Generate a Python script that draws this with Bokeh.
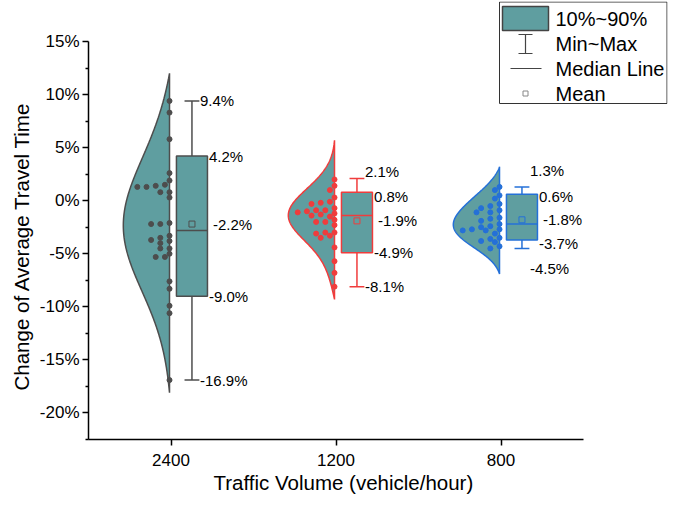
import numpy as np
from bokeh.plotting import figure
from bokeh.models import (ColumnDataSource, Range1d, FixedTicker, Label, Arrow,
                          TeeHead, BoxAnnotation, PrintfTickFormatter, Title)
from bokeh.embed import file_html
from bokeh.resources import INLINE

# ---------------- data ----------------
categories = ["2400", "1200", "800"]

points_2400 = [9.4, 8.3, 5.8, 2.6, 1.9, 1.5, 1.4, 1.3, 1.3, 0.8, 0.8, 0.3,
               -2.1, -2.2, -2.2, -3.3, -3.5, -3.7, -3.8, -4.0, -4.5, -4.5,
               -5.0, -5.3, -5.3, -7.6, -8.3, -9.9, -10.6, -16.9]
points_1200 = [2.0, 1.4, 1.0, 0.3, -0.1, -0.2, -0.3, -0.7, -0.9, -0.9, -1.0,
               -1.1, -1.2, -1.3, -1.4, -1.5, -1.8, -2.0, -2.0, -2.3, -3.0,
               -3.0, -3.1, -3.3, -3.5, -4.4, -5.7, -6.8, -8.1]
points_800 = [1.3, 1.0, 0.5, 0.2, -0.3, -0.5, -0.7, -0.9, -1.1, -1.1, -1.6,
              -1.7, -1.9, -2.2, -2.4, -2.5, -2.7, -2.7, -2.8, -2.8, -3.1,
              -3.5, -3.6, -3.8, -3.9, -4.3, -4.5]

stat_max = [9.4, 2.1, 1.3]
stat_p90 = [4.2, 0.8, 0.6]
stat_mean = [-2.2, -1.9, -1.8]
stat_median = [-2.8, -1.4, -2.2]
stat_p10 = [-9.0, -4.9, -3.7]
stat_min = [-16.9, -8.1, -4.5]

violin_top = [12.0, 5.7, 3.2]
violin_bottom = [-18.1, -9.3, -6.9]

y_ticks = [-20, -15, -10, -5, 0, 5, 10, 15]

x_title = "Traffic Volume (vehicle/hour)"
y_title = "Change of Average Travel Time"
legend_labels = ["10%~90%", "Min~Max", "Median Line", "Mean"]

# ---------------- styling / layout ----------------
FILL = "#5F9EA0"
EDGE = ["#4D4D4D", "#F03C3C", "#2470D8"]
FONT = "Liberation Sans"
W, H = 668, 498
AX_L, AX_R, AX_T, AX_B = 88, 583, 41, 439      # axis extents (px)
Y0, Y1 = -22.5, 15.0
XPX = (AX_R - AX_L) / 3.0
YPX = (AX_B - AX_T) / (Y1 - Y0)
FR_T, FR_R = 1, 667                              # frame extends for the legend
X_END = (FR_R - AX_L) / XPX
Y_END = Y1 + (AX_T - FR_T) / YPX

BOX_L, BOX_R = 0.033, 0.221
BOX_C = (BOX_L + BOX_R) / 2
CAP = 0.045
VIOLIN_W = 0.28
SPINE = -0.009

lab_dx = {"max": 29, "p90": 38, "mean": 42, "p10": 38, "min": 29}
lab_dy = [
    {"max": 0, "p90": 0, "mean": 0, "p10": 0, "min": 0},
    {"max": 7, "p90": -4, "mean": 0, "p10": 0, "min": 0},
    {"max": 16, "p90": -2, "mean": 0, "p10": -4, "min": -20},
]

p = figure(width=W, height=H, output_backend="svg", toolbar_location=None,
           x_range=Range1d(0, X_END), y_range=Range1d(Y0, Y_END),
           min_border_left=AX_L, min_border_right=W - FR_R,
           min_border_top=FR_T, min_border_bottom=H - AX_B)
p.outline_line_color = None
p.xgrid.visible = False
p.ygrid.visible = False
p.background_fill_color = "white"
p.border_fill_color = "white"


def swarm_offsets(vals, d=5.2, step=4.6):
    v = np.asarray(vals, dtype=float)
    order = np.argsort(-v)
    placed = []
    offs = np.zeros(len(v))
    for i in order:
        yy = v[i] * YPX
        k = 0
        while True:
            xx = -k * step
            if all((xx - a) ** 2 + (yy - b) ** 2 >= d * d for a, b in placed):
                break
            k += 1
        placed.append((xx, yy))
        offs[i] = xx
    return offs / XPX


all_points = [points_2400, points_1200, points_800]

for i, cat in enumerate(categories):
    c = i + 0.5
    vals = np.asarray(all_points[i], dtype=float)
    col = EDGE[i]
    n = len(vals)
    h = 1.06 * vals.std(ddof=1) * n ** (-0.2) * 1.6
    grid = np.linspace(violin_bottom[i], violin_top[i], 300)
    dens = np.exp(-0.5 * ((grid[:, None] - vals[None, :]) / h) ** 2).sum(1)
    # taper both ends to the spine
    dens = dens - np.interp(grid, [grid[0], grid[-1]], [dens[0], dens[-1]])
    dens = np.clip(dens, 0, None)
    wdt = dens / dens.max() * VIOLIN_W
    xs = list(c + SPINE - wdt) + [c + SPINE, c + SPINE]
    ys = list(grid) + [grid[-1], grid[0]]
    p.patch(xs, ys, fill_color=FILL, line_color=col, line_width=1.5)

    offs = swarm_offsets(vals)
    src = ColumnDataSource(dict(x=c + SPINE + offs, y=vals))
    p.scatter("x", "y", source=src, size=5, fill_color=col, line_color=col)

    bc = c + BOX_C
    p.segment(x0=[bc, bc], y0=[stat_p90[i], stat_p10[i]],
              x1=[bc, bc], y1=[stat_max[i], stat_min[i]],
              line_color=col, line_width=1.5)
    p.segment(x0=[bc - CAP, bc - CAP], y0=[stat_max[i], stat_min[i]],
              x1=[bc + CAP, bc + CAP], y1=[stat_max[i], stat_min[i]],
              line_color=col, line_width=1.5)
    p.quad(left=[c + BOX_L], right=[c + BOX_R], bottom=[stat_p10[i]],
           top=[stat_p90[i]], fill_color=FILL, line_color=col, line_width=1.5)
    p.segment(x0=[c + BOX_L], x1=[c + BOX_R], y0=[stat_median[i]],
              y1=[stat_median[i]], line_color=col, line_width=1.5)
    p.scatter([bc], [stat_mean[i]], marker="square", size=6, fill_alpha=0,
              line_color=col, line_width=1)

    stats = {"max": stat_max[i], "p90": stat_p90[i], "mean": stat_mean[i],
             "p10": stat_p10[i], "min": stat_min[i]}
    for k, v in stats.items():
        p.add_layout(Label(x=c, y=v, text=f"{v:.1f}%", x_offset=lab_dx[k],
                           y_offset=lab_dy[i][k], text_baseline="middle",
                           text_font=FONT, text_font_size="15px",
                           text_color="black"))

# axes
p.xaxis.ticker = FixedTicker(ticks=[i + 0.5 for i in range(len(categories))])
p.xaxis.major_label_overrides = {i + 0.5: cat for i, cat in enumerate(categories)}
p.xaxis.minor_tick_line_color = None
p.xaxis.bounds = (0, len(categories))
p.yaxis.ticker = FixedTicker(ticks=y_ticks,
                             minor_ticks=[t + 2.5 for t in [-25] + y_ticks[:-1]])
p.yaxis.formatter = PrintfTickFormatter(format="%d%%")
p.yaxis.bounds = (Y0, Y1)
for ax in (p.xaxis[0], p.yaxis[0]):
    ax.axis_line_width = 1.5
    ax.axis_line_color = "black"
    ax.major_tick_line_width = 1.5
    ax.major_tick_line_color = "black"
    ax.minor_tick_line_width = 1.5
    ax.major_tick_out = 6
    ax.major_tick_in = 0
    ax.minor_tick_out = 3
    ax.minor_tick_in = 0
    ax.major_label_text_font = FONT
    ax.major_label_text_font_size = "17px"
    ax.major_label_text_color = "black"
p.yaxis.minor_tick_line_color = "black"
p.xaxis.major_label_standoff = 8
p.yaxis.major_label_standoff = 3

# axis titles, positioned along the axis extent (not the extended frame)
p.add_layout(Title(text=x_title, align="left", offset=125, standoff=0,
                   text_font=FONT, text_font_size="20.5px",
                   text_font_style="normal", text_color="black"), "below")
p.add_layout(Title(text=y_title, align="left", offset=49, standoff=8,
                   text_font=FONT, text_font_size="20.5px",
                   text_font_style="normal", text_color="black"), "left")


# ---------------- legend (drawn as annotations inside the frame) ----------------
def lx(px):
    return (px - 8 - AX_L) / XPX


def ly(py):
    return Y1 - (py - AX_T) / YPX


LEG = "#444444"
p.add_layout(BoxAnnotation(left=lx(507), right=lx(674.5), top=ly(1.5), bottom=ly(103),
                           fill_alpha=0, line_color="#333333", line_width=1,
                           line_alpha=1))
p.add_layout(BoxAnnotation(left=lx(510), right=lx(556), top=ly(6), bottom=ly(30),
                           fill_color=FILL, fill_alpha=1, line_color=LEG,
                           line_width=1.5, line_alpha=1))
p.add_layout(Arrow(x_start=lx(533), y_start=ly(34), x_end=lx(533), y_end=ly(53),
                   start=TeeHead(size=14, line_color=LEG, line_width=1.2),
                   end=TeeHead(size=14, line_color=LEG, line_width=1.2),
                   line_color=LEG, line_width=1.2))
p.add_layout(Arrow(x_start=lx(518), y_start=ly(68), x_end=lx(549), y_end=ly(68),
                   start=None, end=None, line_color=LEG, line_width=1.2))
p.add_layout(BoxAnnotation(left=lx(530.5), right=lx(535.5), top=ly(90.5),
                           bottom=ly(95.5), fill_alpha=0, line_color="#888888",
                           line_width=1, line_alpha=1))
for j, t in enumerate(legend_labels):
    p.add_layout(Label(x=lx(563), y=ly(18 + 25 * j), text=t,
                       text_baseline="middle", text_font=FONT,
                       text_font_size="20px", text_color="black"))

open("out.html", "w").write(file_html(p, INLINE))
